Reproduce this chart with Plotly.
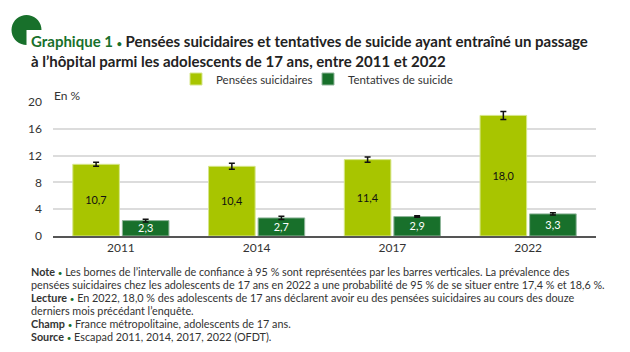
import math
import plotly.graph_objects as go

categories = ["2011", "2014", "2017", "2022"]
pensees = [10.7, 10.4, 11.4, 18.0]
pensees_err = [0.3, 0.45, 0.4, 0.6]
tentatives = [2.3, 2.7, 2.9, 3.3]
tentatives_err = [0.2, 0.25, 0.12, 0.18]
y_ticks = [0, 4, 8, 12, 16, 20]

LIGHT = "#a8c500"
DARK = "#18702b"
W, H = 630, 352
L, R, T, B = 53, 34, 102, 116
PW, PH = W - L - R, H - T - B


def px(x):
    return (x - L) / PW


def py(y):
    return (H - B - y) / PH


def fmt(v):
    return f"{v:.1f}".replace(".", ",")


fig = go.Figure()
fig.add_trace(go.Bar(
    x=categories, y=pensees, name="Pensées suicidaires", legend="legend",
    marker=dict(color=LIGHT, line=dict(color="#d6e68a", width=1)),
    text=[fmt(v) for v in pensees], textposition="inside",
    insidetextanchor="middle",
    textfont=dict(color="#111111", size=13, family="Lato"),
    error_y=dict(type="data", array=pensees_err, color="#111111",
                 thickness=1.5, width=3),
))
fig.add_trace(go.Bar(
    x=categories, y=tentatives, name="Tentatives de suicide", legend="legend2",
    marker=dict(color=DARK, line=dict(color="#8fb59a", width=1)),
    text=[fmt(v) for v in tentatives], textposition="inside",
    insidetextanchor="middle",
    textfont=dict(color="#ffffff", size=13, family="Lato"),
    error_y=dict(type="data", array=tentatives_err, color="#111111",
                 thickness=1.5, width=3),
))

leg_common = dict(orientation="h", y=py(79), xanchor="left", yanchor="middle",
                  font=dict(size=11.5, color="#333333"), itemwidth=30,
                  bgcolor="rgba(0,0,0,0)")
fig.update_layout(
    width=W, height=H,
    margin=dict(l=L, r=R, t=T, b=B, pad=0),
    paper_bgcolor="white", plot_bgcolor="white",
    barmode="group", bargap=0.27, bargroupgap=0.06,
    font=dict(family="Lato", color="#333333", size=12),
    showlegend=True,
    legend=dict(x=px(176), **leg_common),
    legend2=dict(x=px(308), **leg_common),
    uniformtext=dict(mode="show", minsize=10),
)
fig.update_xaxes(showline=True, linecolor="#555555", linewidth=1.5,
                 ticks="", tickfont=dict(size=12, color="#333333"),
                 showgrid=False)
fig.update_yaxes(range=[0, 20], tickvals=y_ticks,
                 ticktext=[str(v) for v in y_ticks],
                 showgrid=True, gridcolor="#dcdcdc", gridwidth=1.5,
                 zeroline=False, ticks="", ticklabelstandoff=10,
                 tickfont=dict(size=12, color="#333333"))

# logo: three-quarter disc
cx, cy, r = 26.5, 30, 15
pts = []
for i in range(0, 271, 10):
    a = math.radians(i)
    pts.append((cx + r * math.cos(a), cy - r * math.sin(a)))
path = f"M {px(cx)},{py(cy)} " + " ".join(f"L {px(x)},{py(y)}" for x, y in pts) + " Z"
fig.add_shape(type="path", path=path, xref="paper", yref="paper",
              fillcolor=DARK, line=dict(width=0))

BUL = "<span style='font-size:9px'>•</span>"

fig.add_annotation(
    xref="paper", yref="paper", x=px(29), y=py(41), xanchor="left",
    yanchor="middle", showarrow=False, align="left",
    text=f"<b><span style='color:{DARK}'>Graphique 1 {BUL}</span> Pensées suicidaires et tentatives de suicide ayant entraîné un passage</b>",
    font=dict(size=15, color="#222222", family="Lato"))
fig.add_annotation(
    xref="paper", yref="paper", x=px(29), y=py(61), xanchor="left",
    yanchor="middle", showarrow=False, align="left",
    text="<b>à l’hôpital parmi les adolescents de 17 ans, entre 2011 et 2022</b>",
    font=dict(size=15, color="#222222", family="Lato"))
fig.add_annotation(
    xref="paper", yref="paper", x=px(52), y=py(95), xanchor="left",
    yanchor="middle", showarrow=False, text="En %",
    font=dict(size=12, color="#333333", family="Lato"))

NB = "<span style='font-size:8px;color:#18702b'>•</span>"
notes = [
    f"<b>Note</b> {NB} Les bornes de l’intervalle de confiance à 95 % sont représentées par les barres verticales. La prévalence des",
    "pensées suicidaires chez les adolescents de 17 ans en 2022 a une probabilité de 95 % de se situer entre 17,4 % et 18,6 %.",
    f"<b>Lecture</b> {NB} En 2022, 18,0 % des adolescents de 17 ans déclarent avoir eu des pensées suicidaires au cours des douze",
    "derniers mois précédant l’enquête.",
    f"<b>Champ</b> {NB} France métropolitaine, adolescents de 17 ans.",
    f"<b>Source</b> {NB} Escapad 2011, 2014, 2017, 2022 (OFDT).",
]
for i, line in enumerate(notes):
    fig.add_annotation(
        xref="paper", yref="paper", x=px(29), y=py(271 + 13 * i),
        xanchor="left", yanchor="middle", showarrow=False, text=line,
        font=dict(size=10.8, color="#333333", family="Lato"))

fig.write_html("out.html")
